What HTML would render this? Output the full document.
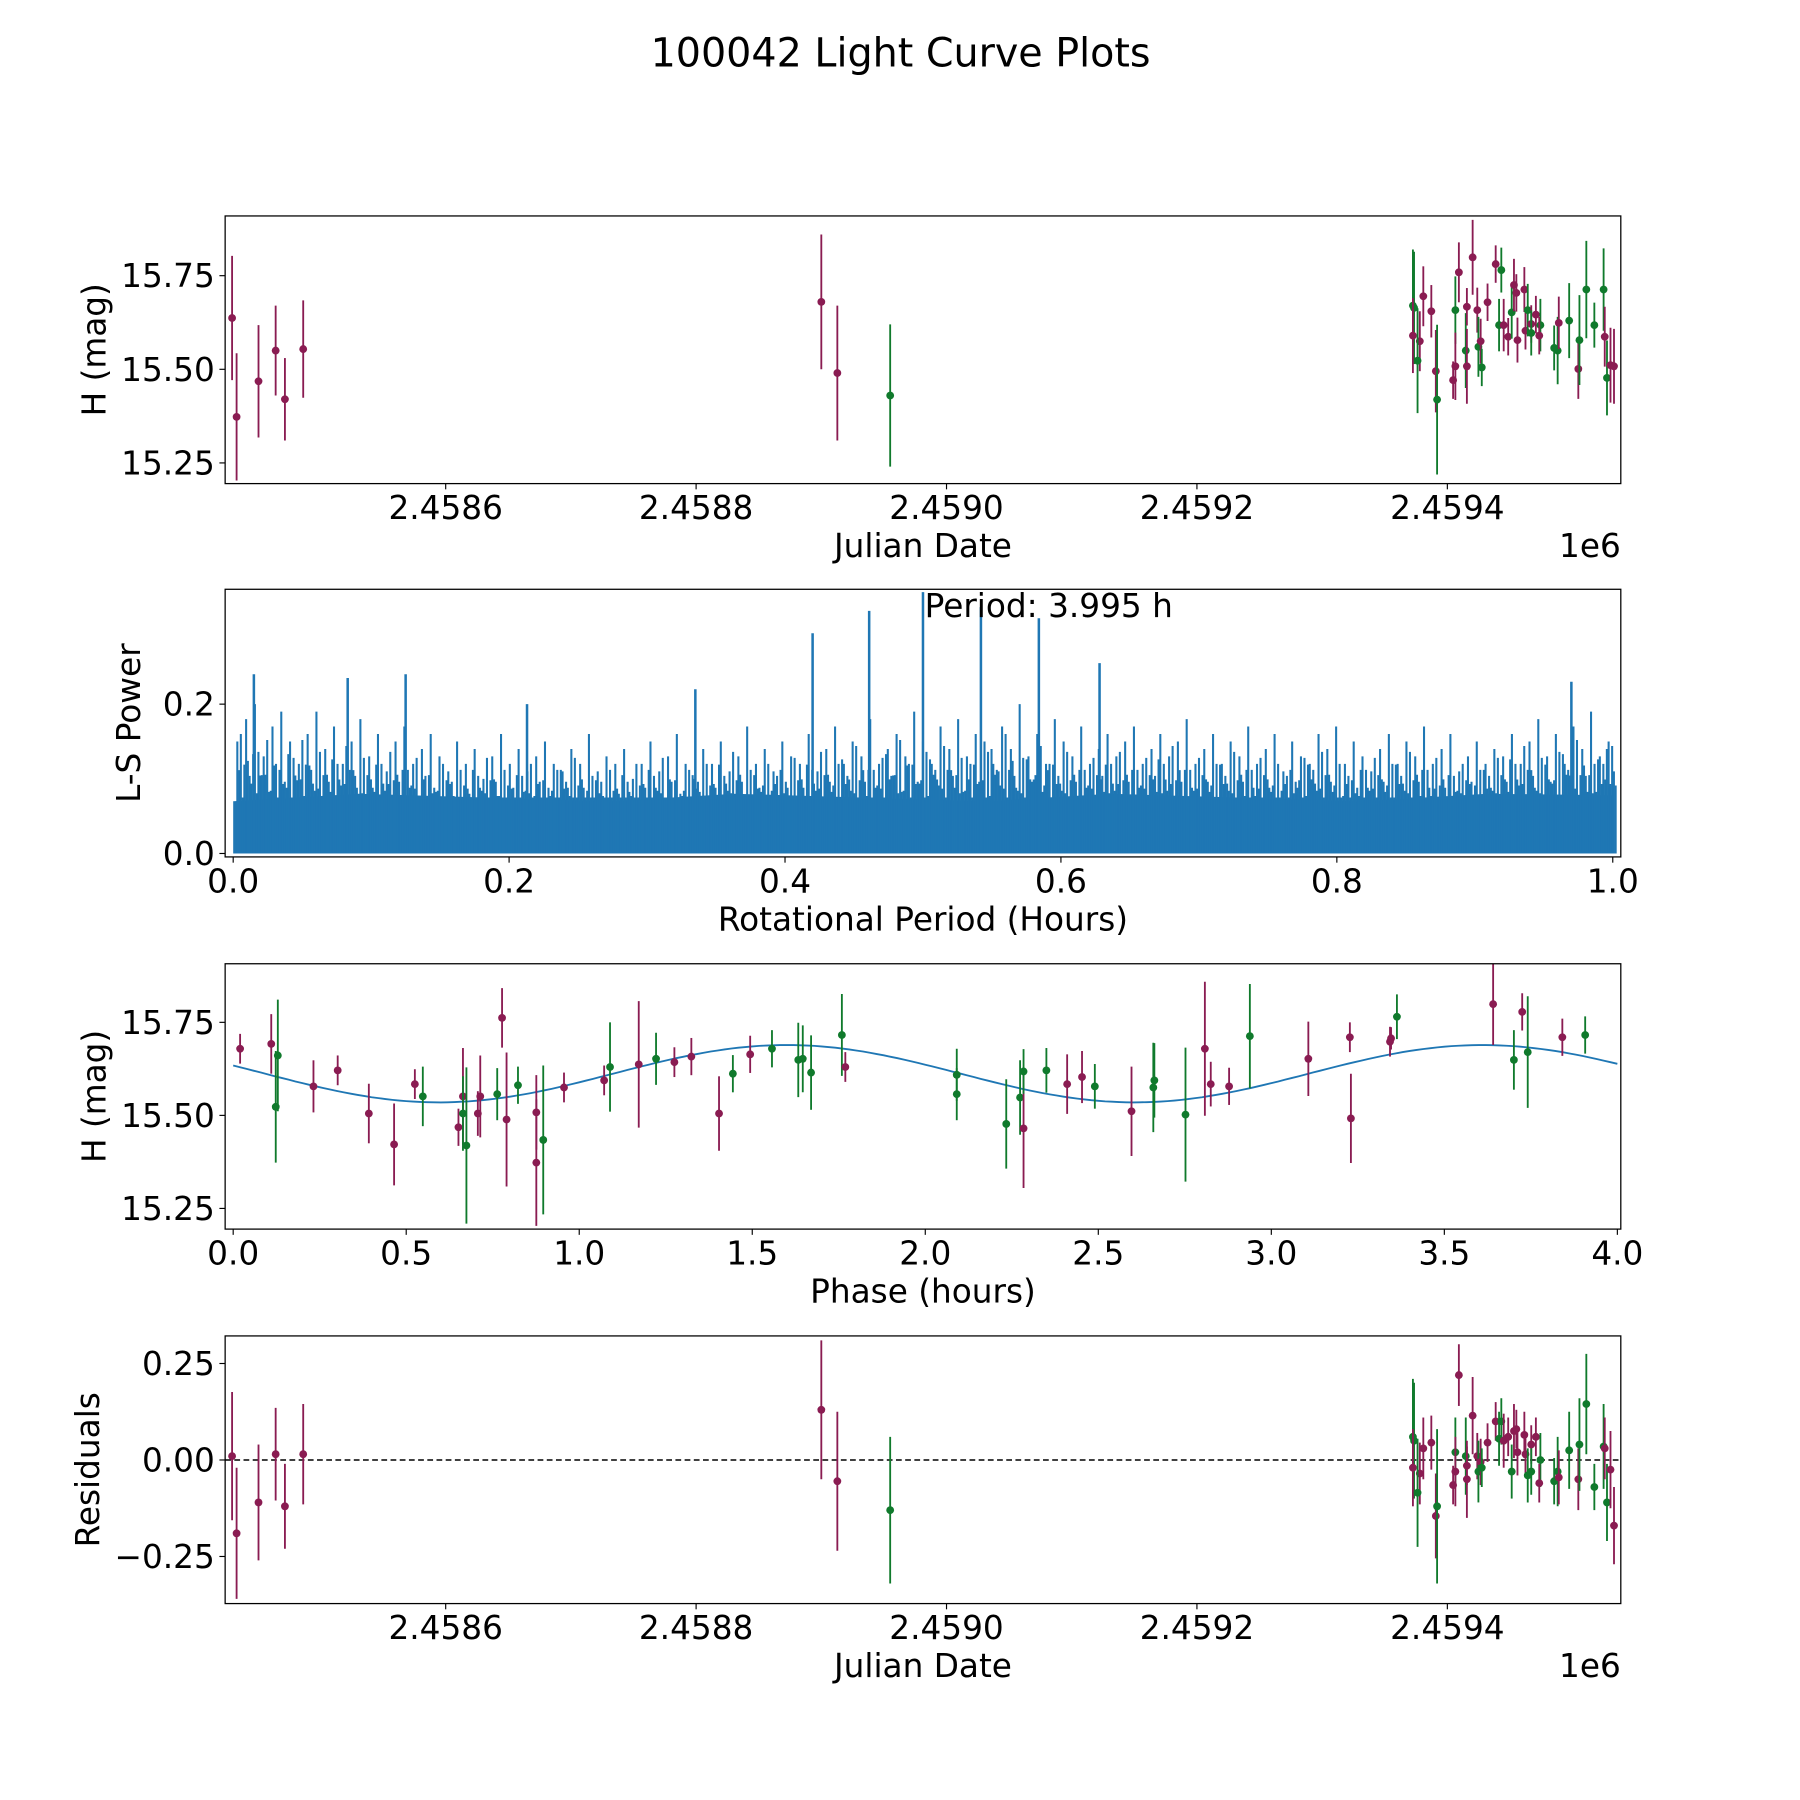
<!DOCTYPE html>
<html><head><meta charset="utf-8"><title>100042 Light Curve Plots</title>
<style>html,body{margin:0;padding:0;background:#fff}svg{display:block}text{font-family:"DejaVu Sans","Liberation Sans",sans-serif;fill:#000}</style>
</head><body>
<svg id="fig" xmlns="http://www.w3.org/2000/svg" width="1800" height="1800" viewBox="0 0 1567 1567">
<rect width="1567" height="1567" fill="#fff"/>
<text x="784" y="58" font-size="34.5" text-anchor="middle">100042 Light Curve Plots</text>
</svg>
<script>
// ---------- data ----------
const jdTimes = [2458429.4,2458433.0,2458450.5,2458464.2,2458471.6,2458486.2,2458900.0,2458912.8,2458955.0,
2459372.5,2459373.4,2459372.5,2459378.0,2459376.2,2459380.8,2459387.2,2459390.8,2459391.8,2459406.4,2459404.6,2459406.4,2459409.2,2459414.7,2459415.6,2459415.6,2459420.2,2459423.9,2459424.8,2459426.6,2459427.5,2459432.1,2459438.6,2459443.1,2459441.3,2459445.0,2459448.6,2459451.4,2459453.2,2459455.1,2459456.0,2459461.5,2459462.4,2459464.2,2459467.0,2459467.0,2459470.7,2459474.3,2459473.4,2459485.3,2459488.1,2459489.0,2459497.3,2459504.6,2459505.5,2459511.0,2459517.4,2459524.8,2459525.7,2459527.5,2459530.3,2459533.1];
const jdMags = [15.637,15.373,15.468,15.550,15.420,15.554,15.680,15.490,15.430,
15.670,15.664,15.590,15.575,15.523,15.695,15.655,15.495,15.419,15.658,15.471,15.508,15.759,15.550,15.667,15.508,15.799,15.658,15.560,15.575,15.505,15.679,15.781,15.765,15.618,15.618,15.587,15.652,15.725,15.704,15.578,15.713,15.603,15.658,15.621,15.597,15.646,15.618,15.590,15.557,15.550,15.624,15.630,15.501,15.578,15.713,15.618,15.713,15.587,15.477,15.511,15.508];
const jdErrs = [0.166,0.17,0.15,0.12,0.11,0.13,0.18,0.18,0.19,
0.15,0.15,0.1,0.08,0.14,0.08,0.07,0.11,0.2,0.09,0.05,0.09,0.08,0.1,0.05,0.1,0.1,0.06,0.08,0.06,0.05,0.05,0.05,0.06,0.07,0.07,0.05,0.07,0.07,0.05,0.06,0.06,0.05,0.07,0.05,0.06,0.05,0.07,0.05,0.06,0.09,0.07,0.1,0.08,0.12,0.13,0.06,0.11,0.08,0.1,0.1,0.1];
const jdColors = ['m','m','m','m','m','m','m','m','g',
'g','g','m','m','g','m','m','m','g','g','m','m','m','g','m','m','m','m','g','m','g','m','m','g','g','m','m','g','m','m','m','m','m','g','m','g','m','g','m','g','g','m','g','m','g','g','g','g','m','g','m','m'];
const residuals = [0.01,-0.19,-0.11,0.015,-0.12,0.015,0.13,-0.055,-0.13,
0.06,0.05,-0.02,-0.035,-0.085,0.03,0.045,-0.145,-0.12,0.02,-0.065,-0.03,0.22,0.01,-0.015,-0.05,0.115,0.01,-0.03,-0.005,-0.02,0.045,0.10,0.10,0.055,0.05,0.06,-0.03,0.075,0.08,0.02,0.065,0.015,-0.04,0.04,-0.03,0.06,0.0,-0.06,-0.055,-0.03,-0.045,0.025,-0.05,0.04,0.145,-0.07,0.035,0.03,-0.11,-0.025,-0.17];

const phases = [0.020,0.110,0.123,0.129,0.232,0.302,0.392,0.465,0.525,0.548,0.651,0.664,0.664,0.674,0.707,0.714,0.763,0.777,0.790,0.823,0.876,0.876,0.896,0.956,1.072,1.089,1.172,1.222,1.275,1.324,1.404,1.444,1.494,1.557,1.633,1.646,1.670,1.759,1.769,2.091,2.091,2.234,2.274,2.284,2.284,2.350,2.410,2.453,2.490,2.596,2.659,2.662,2.752,2.808,2.825,2.878,2.938,3.107,3.227,3.230,3.343,3.346,3.363,3.641,3.701,3.725,3.741,3.841,3.907];
const phaseMags = [15.679,15.692,15.523,15.661,15.578,15.621,15.505,15.422,15.584,15.551,15.468,15.551,15.505,15.419,15.505,15.551,15.557,15.762,15.489,15.581,15.373,15.508,15.434,15.575,15.594,15.630,15.637,15.652,15.643,15.658,15.505,15.612,15.664,15.679,15.649,15.652,15.615,15.716,15.630,15.609,15.557,15.477,15.548,15.465,15.618,15.621,15.584,15.603,15.578,15.511,15.575,15.594,15.502,15.679,15.584,15.578,15.713,15.652,15.710,15.492,15.698,15.707,15.765,15.799,15.649,15.778,15.670,15.710,15.716];
const phaseColors = ['m','m','g','g','m','m','m','m','m','g','m','m','g','g','m','m','g','m','m','g','m','m','g','m','m','g','m','g','m','m','m','g','m','g','g','g','g','g','m','g','g','g','g','m','g','g','m','m','g','m','g','g','g','m','m','m','g','m','m','m','m','m','g','m','g','m','g','m','g'];
const phaseErrs = [0.04,0.08,0.15,0.15,0.07,0.04,0.08,0.11,0.04,0.08,0.05,0.13,0.1,0.21,0.06,0.11,0.07,0.08,0.18,0.05,0.17,0.1,0.2,0.04,0.04,0.12,0.17,0.07,0.04,0.05,0.1,0.05,0.05,0.05,0.1,0.09,0.1,0.11,0.04,0.07,0.07,0.12,0.1,0.16,0.06,0.06,0.08,0.07,0.06,0.12,0.12,0.1,0.18,0.18,0.06,0.05,0.14,0.1,0.04,0.12,0.04,0.03,0.06,0.11,0.08,0.05,0.15,0.05,0.05];
const fitMean = 15.612, fitAmp = 0.077, fitPeakPhase = 1.6, fitPeriod = 2.01;

const lsPeakPeriods = [0.015,0.083,0.125,0.213,0.420,0.461,0.500,0.542,0.584,0.628,0.970,0.335];
const lsPeakPowers = [0.24,0.235,0.24,0.2,0.295,0.325,0.35,0.33,0.315,0.255,0.23,0.22];
const lsNoiseTops = [0.15,0.18,0.2,0.13,0.17,0.19,0.15,0.12,0.16,0.19,0.14,0.17,0.12,0.15,0.18,0.13,0.16,0.11,0.15,0.17,0.12,0.14,0.16,0.13,0.11,0.15,0.12,0.14,0.1,0.13,0.16,0.12,0.14,0.11,0.13,0.15,0.12,0.11,0.14,0.12,0.16,0.11,0.13,0.12,0.14,0.1,0.12,0.15,0.11,0.13,0.16,0.12,0.1,0.14,0.12,0.15,0.11,0.13,0.17,0.12,0.14,0.11,0.15,0.13,0.12,0.16,0.11,0.14,0.17,0.12,0.15,0.13,0.18,0.12,0.14,0.16,0.13,0.19,0.15,0.12,0.17,0.14,0.18,0.13,0.16,0.15,0.12,0.17,0.14,0.2,0.13,0.16,0.12,0.18,0.15,0.13,0.17,0.12,0.14,0.16,0.13,0.15,0.17,0.12,0.14,0.16,0.13,0.15,0.18,0.12,0.14,0.16,0.12,0.15,0.13,0.17,0.12,0.14,0.16,0.11,0.15,0.13,0.12,0.16,0.14,0.17,0.12,0.15,0.13,0.11,0.14,0.16,0.12,0.15,0.13,0.17,0.12,0.14,0.16,0.11,0.13,0.15,0.12,0.14,0.13,0.16,0.12,0.15,0.18,0.13,0.16,0.12,0.17,0.14,0.19,0.13,0.15];
const lsSubFractions = [1.0,0.62,0.8,0.55,0.7];
const lsBaseTops = [0.07,0.08,0.075,0.07,0.08,0.075,0.07,0.08,0.075,0.07,0.08,0.078];

const jdTicks = [2458600,2458800,2459000,2459200,2459400];
const jdTickLabels = ['2.4586','2.4588','2.4590','2.4592','2.4594'];
const magTicks = [15.25,15.5,15.75];
const magTickLabels = ['15.25','15.50','15.75'];
const lsXTicks = [0,0.2,0.4,0.6,0.8,1.0];
const lsXTickLabels = ['0.0','0.2','0.4','0.6','0.8','1.0'];
const lsYTicks = [0,0.2];
const lsYTickLabels = ['0.0','0.2'];
const phaseTicks = [0,0.5,1,1.5,2,2.5,3,3.5,4];
const phaseTickLabels = ['0.0','0.5','1.0','1.5','2.0','2.5','3.0','3.5','4.0'];
const resTicks = [-0.25,0,0.25];
const resTickLabels = ['\u22120.25','0.00','0.25'];

// ---------- helpers ----------
const NS='http://www.w3.org/2000/svg';
const svg=document.getElementById('fig');
const COL={m:'#8a1c52',g:'#107a2c'};
const TF=28.5, LF=28.5;
function mk(tag,attrs,parent){const e=document.createElementNS(NS,tag);for(const k in attrs)e.setAttribute(k,attrs[k]);(parent||svg).appendChild(e);return e;}
function lin(d0,d1,p0,p1){return v=>p0+(v-d0)*(p1-p0)/(d1-d0);}
const L=196,R=1411;

function axes(name,top,bot,xs,ys,xt,xtl,yt,ytl,xlabel,ylabel,ylabelX,extra){
  const g=mk('g',{});
  
  
  xt.forEach((t,i)=>{const x=xs(t);
    const tk=mk('line',{x1:x,x2:x,y1:bot,y2:bot+5,stroke:'#000','stroke-width':1},g);
    
    
    const tx=mk('text',{x:x,y:bot+31,'font-size':TF,'text-anchor':'middle'},g);tx.textContent=xtl[i];
    
    });
  yt.forEach((t,i)=>{const y=ys(t);
    const tk=mk('line',{x1:L-5,x2:L,y1:y,y2:y,stroke:'#000','stroke-width':1},g);
    
    
    const tx=mk('text',{x:L-9,y:y+10,'font-size':TF,'text-anchor':'end'},g);tx.textContent=ytl[i];
    
    });
  const xl=mk('text',{x:(L+R)/2,y:bot+64,'font-size':LF,'text-anchor':'middle'},g);xl.textContent=xlabel;
  
  
  const yl=mk('text',{x:ylabelX,y:(top+bot)/2,'font-size':LF,'text-anchor':'middle',transform:`rotate(-90 ${ylabelX} ${(top+bot)/2})`},g);yl.textContent=ylabel;
  
  
  if(extra){const o=mk('text',{x:R,y:bot+64,'font-size':LF,'text-anchor':'end'},g);o.textContent=extra;
    
    }
}
function frame(name,top,bot){const f=mk('rect',{x:L,y:top,width:R-L,height:bot-top,fill:'none',stroke:'#000','stroke-width':1.1});
  
  }
function clip(id,top,bot){const c=mk('clipPath',{id:id});mk('rect',{x:L,y:top,width:R-L,height:bot-top},c);}
function errPoints(name,xsArr,ysArr,es,cs,xs,ys,clipId){
  const g=mk('g',{'clip-path':`url(#${clipId})`});
  
  
  xsArr.forEach((xv,i)=>{const x=xs(xv),y=ys(ysArr[i]),c=COL[cs[i]];
    const eb=mk('line',{x1:x,x2:x,y1:ys(ysArr[i]+es[i]),y2:ys(ysArr[i]-es[i]),stroke:c,'stroke-width':1.6},g);
    
    
    const p=mk('circle',{cx:x,cy:y,r:3.4,fill:c},g);
    
    });
}

// ---------- panel 1: light curve ----------
{const top=188,bot=421;
 const xs=lin(2458600,2459400,388,1260), ys=lin(15.25,15.75,403,240);
 clip('c1',top,bot);
 errPoints('lightcurve',jdTimes,jdMags,jdErrs,jdColors,xs,ys,'c1');
 frame('lightcurve',top,bot);
 axes('lightcurve',top,bot,xs,ys,jdTicks,jdTickLabels,magTicks,magTickLabels,'Julian Date','H (mag)',92,'1e6');}

// ---------- panel 2: periodogram ----------
{const top=513,bot=746;
 const xs=lin(0,1,203,1404), ys=lin(0,0.2,743,613);
 clip('c2',top,bot);
 const g=mk('g',{'clip-path':'url(#c2)'});
 
 
 let pts=`${xs(0)},${ys(0)} `;
 lsBaseTops.forEach((v,i)=>{pts+=`${xs(i/(lsBaseTops.length-1))},${ys(v)} `;});
 pts+=`${xs(1)},${ys(0)}`;
 const band=mk('polygon',{points:pts,fill:'#1f77b4'},g);
 
 
 const step=0.994/(lsNoiseTops.length-1);
 lsNoiseTops.forEach((v,i)=>{const p=0.003+i*step;
   lsSubFractions.forEach((f,k)=>{
     const nb=lsNoiseTops[(i+k)%lsNoiseTops.length];
     const h=Math.max(0.075,(k===0?v:nb*f));
     const x=xs(p+k*step/lsSubFractions.length);
     const ln=mk('line',{x1:x,x2:x,y1:ys(0),y2:ys(h),stroke:'#1f77b4','stroke-width':1.8},g);
     
     });});
 lsPeakPeriods.forEach((p,i)=>{const x=xs(p);
   const ln=mk('line',{x1:x,x2:x,y1:ys(0),y2:ys(lsPeakPowers[i]),stroke:'#1f77b4','stroke-width':2.2},g);
   
   });
 frame('periodogram',top,bot);
 axes('periodogram',top,bot,xs,ys,lsXTicks,lsXTickLabels,lsYTicks,lsYTickLabels,'Rotational Period (Hours)','L-S Power',122);
 const pl=mk('text',{x:913,y:537,'font-size':LF,'text-anchor':'middle'});pl.textContent='Period: 3.995 h';
 
 }

// ---------- panel 3: phase folded ----------
{const top=839,bot=1070;
 const xs=lin(0,4,203,1408), ys=lin(15.25,15.75,1052,890);
 clip('c3',top,bot);
 let d='';
 for(let i=0;i<=200;i++){const p=i*4/200;const m=fitMean+fitAmp*Math.cos(2*Math.PI*(p-fitPeakPhase)/fitPeriod);d+=(i?'L':'M')+xs(p).toFixed(1)+','+ys(m).toFixed(1);}
 const fl=mk('path',{d:d,fill:'none',stroke:'#1f77b4','stroke-width':1.6,'clip-path':'url(#c3)'});
 
 
 errPoints('phase',phases,phaseMags,phaseErrs,phaseColors,xs,ys,'c3');
 frame('phase',top,bot);
 axes('phase',top,bot,xs,ys,phaseTicks,phaseTickLabels,magTicks,magTickLabels,'Phase (hours)','H (mag)',92);}

// ---------- panel 4: residuals ----------
{const top=1163,bot=1396;
 const xs=lin(2458600,2459400,388,1260), ys=lin(0,0.25,1271,1187);
 clip('c4',top,bot);
 const zl=mk('line',{x1:L,x2:R,y1:ys(0),y2:ys(0),stroke:'#000','stroke-width':1.3,'stroke-dasharray':'5,3'});
 
 
 errPoints('residuals',jdTimes,residuals,jdErrs,jdColors,xs,ys,'c4');
 frame('residuals',top,bot);
 axes('residuals',top,bot,xs,ys,jdTicks,jdTickLabels,resTicks,resTickLabels,'Julian Date','Residuals',86,'1e6');}
</script>
</body></html>
